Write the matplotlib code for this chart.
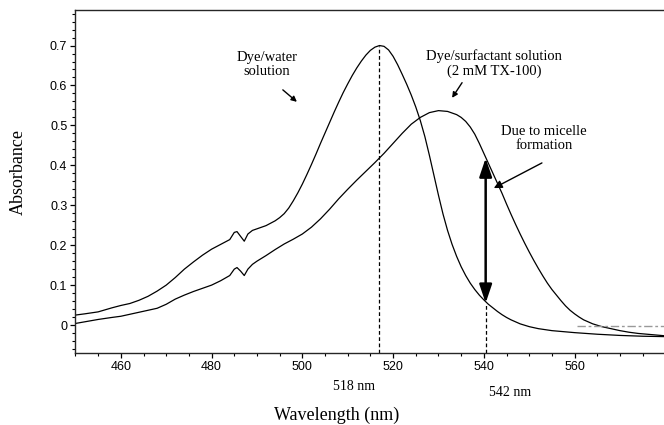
import numpy as np
import matplotlib
matplotlib.use("Agg")
import matplotlib.pyplot as plt
from matplotlib.ticker import MultipleLocator, FuncFormatter

# 读图得到的数据 (nm, 吸光度)
wl_water = [450, 452, 455, 458, 460, 462, 464, 466, 468, 470, 472, 474, 476, 478,
            480, 482, 484, 485, 485.6, 486.4, 487.2, 488, 489, 490, 492, 493, 494,
            495, 496, 497, 498, 499, 500, 501, 502, 503, 504, 505, 506, 507, 508,
            509, 510, 511, 512, 513, 514, 515, 516, 517, 518, 519, 520, 521, 522,
            523, 524, 525, 526, 527, 528, 529, 530, 531, 532, 533, 534, 535, 536,
            537, 538, 539, 540, 541, 542, 543, 544, 545, 546, 547, 548, 550, 552,
            555, 560, 565, 570, 575, 580]
abs_water = [0.025, 0.028, 0.033, 0.043, 0.049, 0.054, 0.062, 0.072, 0.085, 0.100,
             0.119, 0.140, 0.158, 0.175, 0.190, 0.202, 0.214, 0.232, 0.234, 0.222,
             0.210, 0.228, 0.237, 0.241, 0.249, 0.255, 0.261, 0.269, 0.279, 0.293,
             0.311, 0.331, 0.353, 0.377, 0.402, 0.428, 0.455, 0.481, 0.507, 0.533,
             0.558, 0.582, 0.604, 0.625, 0.644, 0.661, 0.676, 0.688, 0.696, 0.700,
             0.698, 0.689, 0.673, 0.652, 0.628, 0.603, 0.576, 0.546, 0.512, 0.472,
             0.425, 0.375, 0.325, 0.278, 0.237, 0.202, 0.172, 0.146, 0.124, 0.105,
             0.089, 0.075, 0.063, 0.052, 0.043, 0.034, 0.026, 0.019, 0.013, 0.008,
             0.003, -0.004, -0.009, -0.014, -0.019, -0.023, -0.026, -0.028, -0.029]

wl_surf = [450, 452, 455, 458, 460, 462, 464, 466, 468, 470, 472, 474, 476, 478,
           480, 482, 484, 485, 485.6, 486.4, 487.2, 488, 489, 490, 492, 494, 496,
           498, 500, 502, 504, 506, 508, 510, 512, 514, 516, 518, 520, 522, 524,
           526, 528, 530, 532, 534, 535, 536, 537, 538, 539, 540, 541, 542, 543,
           544, 545, 546, 547, 548, 549, 550, 551, 552, 553, 554, 555, 556, 557,
           558, 559, 560, 561, 562, 563, 564, 566, 568, 570, 572, 574, 577, 580]
abs_surf = [0.004, 0.008, 0.014, 0.019, 0.022, 0.027, 0.032, 0.037, 0.042, 0.052,
            0.065, 0.075, 0.084, 0.092, 0.100, 0.111, 0.124, 0.140, 0.144, 0.135,
            0.124, 0.140, 0.152, 0.160, 0.174, 0.189, 0.203, 0.215, 0.228, 0.245,
            0.266, 0.290, 0.316, 0.340, 0.363, 0.385, 0.407, 0.430, 0.455, 0.480,
            0.503, 0.520, 0.532, 0.537, 0.535, 0.527, 0.520, 0.510, 0.496, 0.478,
            0.455, 0.430, 0.405, 0.380, 0.355, 0.330, 0.303, 0.277, 0.252, 0.228,
            0.205, 0.183, 0.162, 0.142, 0.123, 0.105, 0.089, 0.075, 0.061, 0.048,
            0.037, 0.028, 0.020, 0.013, 0.008, 0.003, -0.004, -0.009, -0.014,
            -0.018, -0.021, -0.024, -0.027]

# 右侧基线噪声 (灰色虚线)
wl_noise = [560.5, 580]
abs_noise = [-0.002, -0.002]

peak_water = (517.0, 0.700)
micelle_wl = 540.4
micelle_top = 0.418
micelle_bottom = 0.055

x_ticks = [460, 480, 500, 520, 540, 560]
y_ticks = [0, 0.1, 0.2, 0.3, 0.4, 0.5, 0.6, 0.7]

serif = ['Liberation Serif', 'DejaVu Serif']
sans = ['Liberation Sans', 'DejaVu Sans']

fig = plt.figure(figsize=(6.64, 4.25), dpi=100)
ax = fig.add_axes([75 / 664, 1 - 353 / 425, 1 - 75 / 664, (353 - 10) / 425])

ax.plot(wl_water, abs_water, color='black', lw=0.9)
ax.plot(wl_surf, abs_surf, color='black', lw=0.9)
ax.plot(wl_noise, abs_noise, color='0.6', lw=1.0, dashes=(6, 2, 2, 2))

ymin, ymax = -0.070, 0.789
ax.set_xlim(449.9, 579.7)
ax.set_ylim(ymin, ymax)

# 虚线标出峰位
ax.plot([peak_water[0], peak_water[0]], [ymin, peak_water[1]], color='black',
        lw=0.9, dashes=(3, 2))
ax.plot([micelle_wl, micelle_wl], [ymin, micelle_bottom], color='black',
        lw=0.9, dashes=(3, 2))

# 双向箭头
ax.annotate('', xy=(micelle_wl, micelle_top), xytext=(micelle_wl, micelle_bottom),
            arrowprops=dict(arrowstyle='<|-|>,head_length=0.8,head_width=0.27',
                            lw=1.8, color='black', mutation_scale=14,
                            shrinkA=0, shrinkB=0))

tfont = dict(family=serif, fontsize=10.5, ha='center', va='center', linespacing=1.15)
ax.text(492.2, 0.652, 'Dye/water\nsolution', **tfont)
ax.text(542.2, 0.654, 'Dye/surfactant solution\n(2 mM TX-100)', **tfont)
ax.text(553.2, 0.467, 'Due to micelle\nformation', **tfont)

arr = dict(arrowstyle='-|>', lw=1.0, color='black', mutation_scale=8,
           shrinkA=0, shrinkB=0)
ax.annotate('', xy=(498.8, 0.559), xytext=(495.7, 0.589), arrowprops=arr)
ax.annotate('', xy=(533.0, 0.569), xytext=(535.2, 0.607), arrowprops=arr)
ax.annotate('', xy=(542.2, 0.343), xytext=(552.8, 0.406),
            arrowprops=dict(arr, mutation_scale=12))

ax.xaxis.set_major_locator(plt.FixedLocator(x_ticks))
ax.xaxis.set_minor_locator(MultipleLocator(5))
ax.yaxis.set_major_locator(plt.FixedLocator(y_ticks))
ax.yaxis.set_minor_locator(MultipleLocator(0.02))
ax.yaxis.set_major_formatter(FuncFormatter(lambda v, p: '0' if abs(v) < 1e-9 else f'{v:.1f}'))

ax.tick_params(which='major', direction='out', length=3.5, width=0.9, labelsize=9, pad=2)
ax.tick_params(which='minor', direction='out', length=2, width=0.8)
for lab in ax.get_xticklabels() + ax.get_yticklabels():
    lab.set_family(sans)

ax.spines['right'].set_visible(False)
for s in ['top', 'left', 'bottom']:
    ax.spines[s].set_linewidth(1.0)
    ax.spines[s].set_color('0.15')

fig.text(354 / 664, 1 - 387 / 425, '518 nm', family=serif, fontsize=10, ha='center', va='center')
fig.text(510 / 664, 1 - 393 / 425, '542 nm', family=serif, fontsize=10, ha='center', va='center')
fig.text(337 / 664, 1 - 415 / 425, 'Wavelength (nm)', family=serif, fontsize=13,
         ha='center', va='center')
fig.text(18 / 664, 1 - 172 / 425, 'Absorbance', family=serif, fontsize=13,
         ha='center', va='center', rotation=90)

fig.savefig('out.png', dpi=100)
